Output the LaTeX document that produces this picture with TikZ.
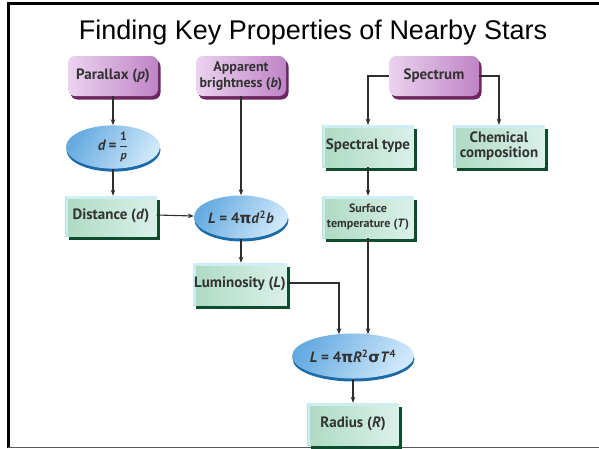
\documentclass[tikz,border=0pt]{standalone}
\usepackage{fontspec}
\setmainfont{PT Sans}
\newfontfamily\titlefont{Liberation Sans}
\newfontfamily\grk{DejaVu Sans}
\usetikzlibrary{arrows.meta,shapes.geometric,calc}
\definecolor{txtgray}{HTML}{333333}
\definecolor{purpL}{HTML}{EBD3EF}
\definecolor{purpR}{HTML}{BF84C6}
\definecolor{purpD}{HTML}{6E2663}
\definecolor{grnL}{HTML}{AEDAC4}
\definecolor{grnR}{HTML}{DAF1E9}
\definecolor{grnD}{HTML}{0F4B2E}
\definecolor{grnH}{HTML}{CDEFF3}
\definecolor{bluL}{HTML}{66ABE0}
\definecolor{bluR}{HTML}{CFE8FA}
\definecolor{bluD}{HTML}{1D6AA8}
\definecolor{linegray}{HTML}{2E2E2E}
\begin{document}
\begin{tikzpicture}[x=1pt,y=-1pt,
  every node/.style={font=\fontsize{15}{17}\selectfont\bfseries, text=txtgray, align=center, inner sep=1pt},
  inbox/.style={rectangle, rounded corners=7pt, minimum width=90pt, minimum height=40pt,
    left color=purpL, right color=purpR,
    preaction={fill=purpD, transform canvas={xshift=2.5pt,yshift=-3.5pt}}},
  resbox/.style={rectangle, minimum width=91pt, minimum height=40pt,
    left color=grnL, right color=grnR,
    preaction={fill=grnD, transform canvas={xshift=3pt,yshift=-3.5pt}},
    path picture={\draw[grnH, line width=5pt] (path picture bounding box.south west) -- (path picture bounding box.north west) -- (path picture bounding box.north east);}},
  eqell/.style={ellipse, minimum width=94pt, minimum height=41pt, inner sep=0pt,
    left color=bluL, right color=bluR, shading angle=60,
    preaction={fill=bluD, transform canvas={xshift=0.5pt,yshift=-3pt}}},
  conn/.style={draw=linegray, line width=1.1pt, -{Stealth[length=6pt,width=4.5pt]}}
]
\useasboundingbox (0,0) rectangle (599,448);
\fill[white] (0,0) rectangle (599,448);
% frame
\draw[black, line width=3pt] (8,448) -- (8,3) -- (599,3);
\draw[gray!70!black, line width=1pt] (8,447.5) -- (599,447.5);

\node[font=\titlefont\fontsize{27}{30}\selectfont, text=black] (title) at (313,33) {Finding Key Properties of Nearby Stars};

% inputs
\node[inbox] (par) at (113,76) {Parallax (\textit{p})};
\node[inbox, font=\fontsize{14}{16}\selectfont\bfseries] (app) at (241,76) {Apparent\\brightness (\textit{b})};
\node[inbox] (spec) at (434,76) {Spectrum};

% equations
\node[eqell] (e1) at (113,147) {\textit{d}\,=\,$\displaystyle\frac{\mbox{\fontsize{12}{12}\selectfont 1}}{\mbox{\fontsize{12}{12}\selectfont\itshape p}}$};
\node[eqell, minimum height=43pt] (e2) at (241,217) {\textit{L} = 4{\grk π}\textit{d}\textsuperscript{2}\textit{b}};
\node[eqell, minimum width=97pt, minimum height=45pt] (e3) at (353,356) {\textit{L} = 4{\grk π}\textit{R}\textsuperscript{2}{\grk σ}\textit{T}\textsuperscript{4}};

% results
\node[resbox] (dist) at (111,216) {Distance (\textit{d})};
\node[resbox, minimum height=42pt] (spt) at (368,146) {Spectral type};
\node[resbox, minimum height=42pt, font=\fontsize{15}{15.5}\selectfont\bfseries] (chem) at (499,146) {Chemical\\composition};
\node[resbox, minimum height=42pt, font=\fontsize{12}{15}\selectfont\bfseries] (surf) at (368,217) {Surface\\temperature (\textit{T})};
\node[resbox, minimum height=42pt] (lum) at (240,284) {Luminosity (\textit{L})};
\node[resbox, minimum height=42pt] (rad) at (353,424) {Radius (\textit{R})};

% connectors
\draw[conn] (par.south) -- (e1.north);
\draw[conn] (e1.south) -- (e1.south |- dist.north);
\draw[conn] ([yshift=1pt]dist.east) -- ([yshift=1pt]e2.west);
\draw[conn] (app.south) -- (e2.north);
\draw[conn] (e2.south) -- (e2.south |- lum.north);
\draw[conn] (spec.west) -| (spt.north);
\draw[conn] (spec.east) -| (chem.north);
\draw[conn] (spt.south) -- (surf.north);
\draw[conn] ([yshift=1pt]lum.east) -| ([xshift=-14pt,yshift=-1pt]e3.north);
\draw[conn] (surf.south) -- ([yshift=-1pt]surf.south |- e3.north);
\draw[conn] (e3.south) -- (rad.north);
\end{tikzpicture}
\end{document}
